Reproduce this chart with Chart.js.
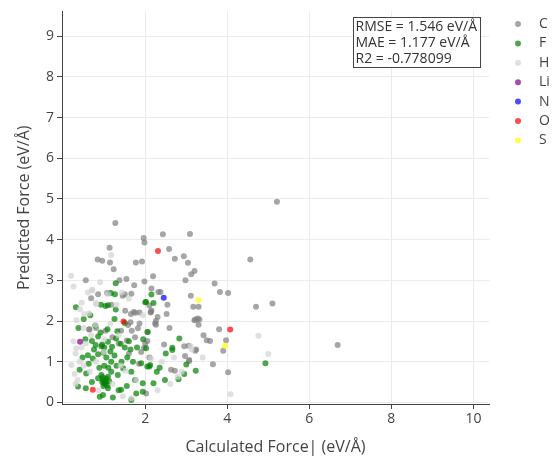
<!DOCTYPE html>
<html>
<head>
<meta charset="utf-8">
<script src="https://cdn.jsdelivr.net/npm/chart.js@4/dist/chart.umd.min.js"></script>
<style>
html,body{margin:0;padding:0;background:#fff;}
#wrap{width:552px;height:458px;}
</style>
</head>
<body>
<div id="wrap"><canvas id="c" width="552" height="458"></canvas></div>
<script>
// ---------------- data ----------------
const elements = ['C', 'F', 'H', 'Li', 'N', 'O', 'S'];

const pointsC = [
 [1.27,4.41],[1.96,4.04],[1.98,3.93],[2.43,4.13],[3.09,4.14],[1.13,3.80],[2.58,3.77],[0.84,3.51],[0.95,3.48],
 [1.14,3.44],[1.23,3.27],[1.77,3.44],[1.92,3.46],[2.19,3.10],[1.98,2.97],[2.72,3.53],[2.94,3.59],[3.04,3.43],
 [3.12,3.15],[3.20,3.23],[2.98,3.00],[0.55,3.00],[1.37,3.00],[1.54,3.03],[1.73,2.88],[0.85,2.66],[0.68,2.56],
 [1.45,2.62],[2.15,2.80],[2.32,2.71],[2.37,2.71],[3.11,2.62],[1.17,2.40],[1.51,2.25],[1.65,2.17],[1.76,2.20],
 [2.10,2.38],[2.13,2.21],[2.14,2.23],[2.54,2.40],[2.52,2.17],[3.17,2.35],[3.30,2.35],[3.69,2.92],[3.82,2.71],
 [4.02,2.69],[2.15,2.26],[5.21,4.93],[4.56,3.51],[4.70,2.35],[5.10,2.43],[3.20,2.02],[3.22,2.04],[3.28,2.06],
 [3.32,2.04],[3.30,1.91],[3.80,1.80],[3.42,1.65],[3.50,1.53],[3.58,1.51],[3.97,1.53],[3.22,1.27],[3.90,1.27],
 [6.69,1.41],[3.07,1.02],[3.65,0.94],[4.02,0.74],[2.26,1.91],[2.59,1.83],[2.46,1.42],[2.95,1.38],[3.06,1.39],
 [3.24,1.30],[2.97,1.14],[3.07,1.04],[2.63,0.80],[2.72,0.78],[2.02,0.22],[1.07,2.69],[1.50,2.66],[1.66,2.67],
 [1.72,2.22],[1.86,2.21],[0.64,1.80],[0.80,1.83],[1.03,1.76],[1.58,1.90],[1.67,1.76],[1.41,1.76],[1.82,1.82],
 [2.05,1.73],[1.64,1.97],[1.86,1.94],[2.24,1.94],[1.90,1.24],[1.97,1.34],[2.05,1.51],[0.63,1.79],[1.20,1.60],
 [1.35,1.45],[1.55,1.52],[1.75,1.60],[2.26,2.00],[2.30,2.10],[2.00,1.45],[2.10,1.10],[1.85,0.95],[1.60,1.20]
];
const pointsF = [
 [1.28,2.93],[1.16,2.69],[1.26,2.66],[2.15,2.65],[0.31,2.34],[0.66,2.14],[0.92,2.40],[1.03,2.37],[1.09,2.39],
 [1.28,2.28],[2.00,2.46],[2.20,2.44],[2.02,2.47],[0.37,1.83],[0.78,1.89],[0.91,1.72],[1.32,1.75],[0.54,1.55],
 [0.70,1.51],[0.79,1.41],[0.93,1.38],[1.09,1.49],[1.19,1.37],[1.29,1.57],[1.40,1.44],[1.64,1.30],[0.60,1.16],
 [0.47,1.10],[0.72,1.08],[0.85,1.18],[1.05,1.10],[1.17,1.00],[1.25,1.15],[1.56,1.10],[1.70,1.00],[1.90,0.96],
 [2.05,0.88],[0.40,0.80],[0.56,0.71],[0.93,0.67],[0.85,0.59],[0.97,0.55],[1.09,0.63],[1.17,0.75],[1.33,0.67],
 [1.46,0.84],[1.66,0.75],[1.94,0.47],[0.36,0.39],[0.97,0.18],[1.21,0.12],[1.41,0.31],[1.78,0.22],[1.94,0.26],
 [0.89,0.14],[1.09,0.35],[1.66,0.06],[4.93,0.96],[3.23,0.78],[2.06,1.73],[2.83,1.57],[2.66,1.34],[2.66,1.29],
 [3.00,0.93],[2.10,0.88],[2.12,0.92],[2.02,1.33],[2.28,0.75],[2.48,0.55],[2.81,0.57],[2.20,0.47],[0.98,0.40],
 [1.02,0.45],[0.95,0.50],[1.05,0.58],[1.12,0.52],[0.88,0.85],[1.00,0.90],[1.10,0.85],[1.30,0.90],[1.42,1.00],
 [0.62,0.95],[0.75,1.30],[0.98,1.22],[1.15,1.25],[1.50,1.35],[1.60,1.50],[0.85,1.62],[1.08,1.80],[1.50,1.95],
 [1.25,2.05],[0.50,2.05],[1.80,1.35],[1.75,0.55],[1.55,0.40],[1.35,0.30],[0.70,0.50],[0.55,0.35],[2.95,0.70],
 [2.35,0.85],[2.50,1.20],[1.95,1.55],[1.00,0.48],[1.03,0.52],[0.96,0.62],[1.08,0.42],[1.00,1.35],[0.95,1.42]
];
const pointsH = [
 [1.17,3.62],[0.19,3.11],[0.71,2.77],[1.43,2.70],[1.09,2.66],[0.41,2.29],[0.51,2.17],[0.63,2.19],[0.80,2.41],
 [1.94,2.14],[0.70,2.75],[0.80,2.44],[0.32,2.02],[0.79,1.90],[0.50,1.83],[1.15,1.94],[0.32,1.33],[0.99,1.24],
 [0.20,0.92],[1.78,0.55],[1.66,0.10],[4.76,1.64],[3.11,1.38],[5.00,1.19],[4.08,0.20],[3.13,1.30],[2.14,1.08],
 [2.89,0.75],[2.79,0.63],[2.61,0.45],[0.25,1.50],[0.30,1.20],[0.45,1.35],[0.55,1.45],[0.40,1.00],[0.28,0.70],
 [0.35,0.55],[0.30,0.45],[0.50,0.90],[0.65,0.75],[0.80,1.00],[1.40,0.90],[1.52,0.78],[1.35,1.65],[1.00,1.55],
 [0.68,1.65],[0.45,2.45],[1.30,2.40],[1.60,2.55],[0.90,2.95],[0.60,2.70],[1.20,0.45],[1.45,0.15],[0.85,0.30],
 [2.40,1.00],[2.70,1.10],[3.40,1.10],[2.30,0.30],[0.25,2.85]
];
const pointsLi = [[0.41,1.49]];
const pointsN  = [[2.45,2.57]];
const pointsO  = [[2.31,3.72],[1.47,1.99],[0.72,0.31],[4.07,1.79]];
const pointsS  = [[3.30,2.51],[3.94,1.39]];

const xTicks = [2, 4, 6, 8, 10];
const yTicks = [0, 1, 2, 3, 4, 5, 6, 7, 8, 9];
const xTitle = 'Calculated Force| (eV/Å)';
const yTitle = 'Predicted Force (eV/Å)';
const statLines = ['RMSE = 1.546 eV/Å', 'MAE = 1.177 eV/Å', 'R2 = -0.778099'];

// ---------------- styles ----------------
const colors = ['rgba(128,128,128,0.7)', 'rgba(0,128,0,0.7)', 'rgba(211,211,211,0.7)',
  'rgba(128,0,128,0.7)', 'rgba(0,0,255,0.7)', 'rgba(255,0,0,0.7)', 'rgba(255,255,0,0.7)'];
const allPoints = [pointsC, pointsF, pointsH, pointsLi, pointsN, pointsO, pointsS];
const FONT = '"Open Sans", "Noto Sans", sans-serif';
const TXT = '#444';

const datasets = elements.map((el, i) => ({
  label: el,
  data: allPoints[i].map(p => ({x: p[0], y: p[1]})),
  backgroundColor: colors[i],
  borderWidth: 0,
  pointRadius: 3,
  pointHoverRadius: 3,
  order: elements.length - i
}));

const overlay = {
  id: 'overlay',
  afterDraw(chart) {
    const ctx = chart.ctx;
    ctx.save();
    // stats box
    ctx.font = '14px ' + FONT;
    const bx = 353.5, by = 17.5, bw = 127, bh = 50;
    ctx.fillStyle = '#fff';
    ctx.fillRect(bx, by, bw, bh);
    ctx.strokeStyle = '#444';
    ctx.lineWidth = 1;
    ctx.strokeRect(bx, by, bw, bh);
    ctx.fillStyle = '#333';
    ctx.textBaseline = 'middle';
    ctx.textAlign = 'left';
    statLines.forEach((t, i) => ctx.fillText(t, bx + 2, by + 10 + i * 16, bw - 3));
    // legend
    const lx = 518, ly = 24, step = 19.4;
    elements.forEach((el, i) => {
      ctx.beginPath();
      ctx.fillStyle = colors[i];
      ctx.arc(lx, ly + i * step, 3, 0, Math.PI * 2);
      ctx.fill();
      ctx.fillStyle = TXT;
      ctx.fillText(el, 539, ly + i * step);
    });
    ctx.restore();
  }
};

new Chart(document.getElementById('c'), {
  type: 'scatter',
  data: { datasets },
  options: {
    responsive: false,
    animation: false,
    devicePixelRatio: 1,
    layout: { padding: { left: 0, top: 9, right: 63, bottom: 0 } },
    plugins: { legend: { display: false }, tooltip: { enabled: false } },
    scales: {
      x: {
        type: 'linear',
        min: -0.03, max: 10.38,
        afterBuildTicks: s => { s.ticks = xTicks.map(v => ({value: v})); },
        afterFit: s => { s.height = 54; },
        grid: { color: '#ebebeb', lineWidth: 1, tickColor: '#444', tickLength: 5, tickWidth: 1 },
        border: { display: true, color: '#444', width: 1 },
        ticks: { color: TXT, font: { family: FONT, size: 14 }, padding: 2, maxRotation: 0 },
        title: { display: true, text: xTitle, color: TXT, font: { family: FONT, size: 16 }, padding: { top: 0, bottom: 1 } }
      },
      y: {
        type: 'linear',
        min: -0.04, max: 9.61,
        afterBuildTicks: s => { s.ticks = yTicks.map(v => ({value: v})); },
        afterFit: s => { s.width = 62; },
        grid: { color: '#ebebeb', lineWidth: 1, tickColor: '#444', tickLength: 5, tickWidth: 1 },
        border: { display: true, color: '#444', width: 1 },
        ticks: { color: TXT, font: { family: FONT, size: 14 }, padding: 3 },
        title: { display: true, text: yTitle, color: TXT, font: { family: FONT, size: 16 }, padding: { top: 15, bottom: 0 } }
      }
    }
  },
  plugins: [overlay]
});
</script>
</body>
</html>
